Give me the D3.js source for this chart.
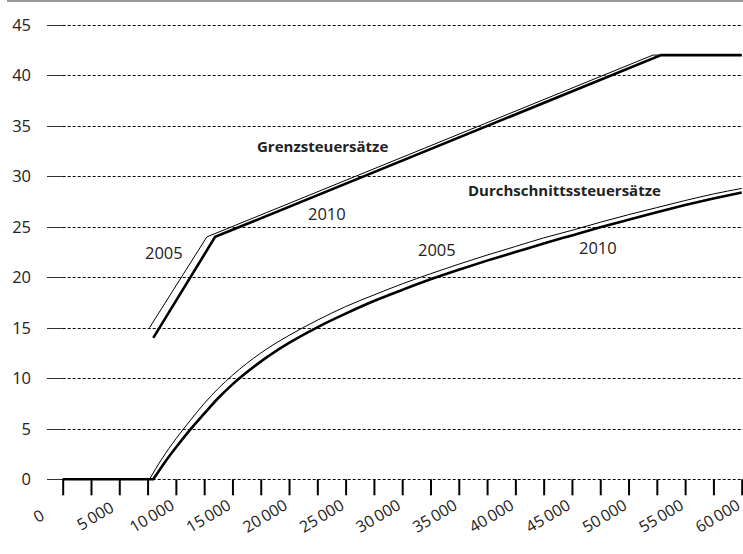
<!DOCTYPE html>
<html>
<head>
<meta charset="utf-8">
<title>Grenz- und Durchschnittssteuersätze 2005 / 2010</title>
<script src="https://d3js.org/d3.v7.min.js"></script>
<style>
  body { margin: 0; background: #fff; }
  text { font-family: "Open Sans", "DejaVu Sans", sans-serif; fill: #222; }
</style>
</head>
<body>
<div id="chart"></div>
<script>
// Einkommen (Euro) und Steuersätze (%)
const grenzIncome2005 = [7664, 12739, 52151, 60000];
const grenzRate2005   = [15, 24, 42, 42];
const grenzIncome2010 = [8004, 13469, 52881, 60000];
const grenzRate2010   = [14, 24, 42, 42];

const avgIncome2005 = [0, 7664, 8750, 10000, 11250, 12500, 13750, 15000, 17500, 20000, 22500, 25000,
  27500, 30000, 32500, 35000, 37500, 40000, 42500, 45000, 47500, 50000, 52500, 55000, 57500, 60000];
const avgRate2005 = [0, 0, 2.0, 4.0, 5.8, 7.5, 9.0, 10.3, 12.5, 14.25, 15.75, 17.1,
  18.25, 19.35, 20.35, 21.3, 22.2, 23.05, 23.9, 24.65, 25.45, 26.2, 26.9, 27.6, 28.25, 28.8];

const avgIncome2010 = [0, 8004, 9000, 10000, 11250, 12500, 13750, 15000, 17500, 20000, 22500, 25000,
  27500, 30000, 32500, 35000, 37500, 40000, 42500, 45000, 47500, 50000, 52500, 55000, 57500, 60000];
const avgRate2010 = [0, 0, 1.65, 3.15, 4.9, 6.5, 8.05, 9.4, 11.65, 13.5, 15.05, 16.4,
  17.65, 18.75, 19.8, 20.75, 21.65, 22.5, 23.35, 24.15, 24.95, 25.7, 26.45, 27.15, 27.8, 28.4];

const yTicks = [0, 5, 10, 15, 20, 25, 30, 35, 40, 45];
const xLabelValues = [0, 5000, 10000, 15000, 20000, 25000, 30000, 35000, 40000, 45000, 50000, 55000, 60000];

const width = 743, height = 554;

const svg = d3.select("#chart").append("svg")
    .attr("width", width)
    .attr("height", height);

const x = d3.scaleLinear().domain([0, 60000]).range([62.7, 741.7]);
const y = d3.scaleLinear().domain([0, 45]).range([479.3, 24.8]);

// graue Linie oben
svg.append("rect")
    .attr("x", 7).attr("y", 0)
    .attr("width", width - 7).attr("height", 2)
    .attr("fill", "#999");

// Gitterlinien
const grid = svg.append("g");
grid.selectAll("line.solid")
    .data(yTicks)
    .join("line")
    .attr("class", "solid")
    .attr("x1", 47).attr("x2", x(0))
    .attr("y1", d => Math.round(y(d)) + 0.5)
    .attr("y2", d => Math.round(y(d)) + 0.5)
    .attr("stroke", "#333")
    .attr("stroke-width", 1);

grid.selectAll("line.dash")
    .data(yTicks)
    .join("line")
    .attr("class", "dash")
    .attr("x1", x(0)).attr("x2", width)
    .attr("y1", d => Math.round(y(d)) + 0.5)
    .attr("y2", d => Math.round(y(d)) + 0.5)
    .attr("stroke", "#000")
    .attr("stroke-width", 1)
    .attr("stroke-dasharray", "3,2");

// y-Beschriftung
svg.append("g").selectAll("text")
    .data(yTicks)
    .join("text")
    .attr("x", 31)
    .attr("y", d => y(d))
    .attr("dy", "0.36em")
    .attr("text-anchor", "end")
    .style("font-size", "16.5px")
    .text(d => d);

// x-Achse: Striche alle 2500
const xAxis = d3.axisBottom(x)
    .tickValues(d3.range(0, 60001, 2500))
    .tickSize(16)
    .tickFormat("");
const gx = svg.append("g")
    .attr("transform", `translate(0,${y(0)})`)
    .call(xAxis);
gx.select(".domain").remove();
gx.selectAll(".tick line").attr("stroke", "#000").attr("stroke-width", 2);

svg.append("g").selectAll("text")
    .data(xLabelValues)
    .join("text")
    .attr("transform", d => `translate(${x(d) - 24},516) rotate(-31)`)
    .attr("text-anchor", "middle")
    .attr("dy", "0.35em")
    .style("font-size", "16px")
    .text(d => d3.format(",")(d).replace(/,/g, "\u2009"));

// Linien
const line = d3.line()
    .x(d => x(d[0]))
    .y(d => y(d[1]));
const curve = d3.line()
    .x(d => x(d[0]))
    .y(d => y(d[1]))
    .curve(d3.curveMonotoneX);

// Durchschnitt: flaches Stück bis zum Grundfreibetrag, danach Kurve (mit Knick)
function avgPath(inc, rate) {
  const pts = d3.zip(inc, rate);
  const k = rate.findIndex((r, i) => i > 0 && r > 0) - 1;
  return line(pts.slice(0, k + 1)) + curve(pts.slice(k)).replace(/^M/, "L");
}

const series = [
  {d: avgPath(avgIncome2010, avgRate2010), w: 2.6},
  {d: line(d3.zip(grenzIncome2010, grenzRate2010)), w: 2.6},
  {d: avgPath(avgIncome2005, avgRate2005), w: 1},
  {d: line(d3.zip(grenzIncome2005, grenzRate2005)), w: 1}
];

svg.append("g").selectAll("path")
    .data(series)
    .join("path")
    .attr("d", d => d.d)
    .attr("fill", "none")
    .attr("stroke", "#000")
    .attr("stroke-width", d => d.w)
    .attr("stroke-linejoin", "miter");

// Beschriftungen
const notes = [
  {t: "Grenzsteuersätze", x: 257, y: 152, bold: true},
  {t: "Durchschnittssteuersätze", x: 468, y: 196, bold: true},
  {t: "2010", x: 308, y: 220},
  {t: "2005", x: 145, y: 259},
  {t: "2005", x: 418, y: 256},
  {t: "2010", x: 579, y: 254}
];
svg.append("g").selectAll("text")
    .data(notes)
    .join("text")
    .attr("x", d => d.x)
    .attr("y", d => d.y)
    .style("font-size", d => d.bold ? "15px" : "16.5px")
    .style("font-weight", d => d.bold ? "bold" : "normal")
    .text(d => d.t);
</script>
</body>
</html>
